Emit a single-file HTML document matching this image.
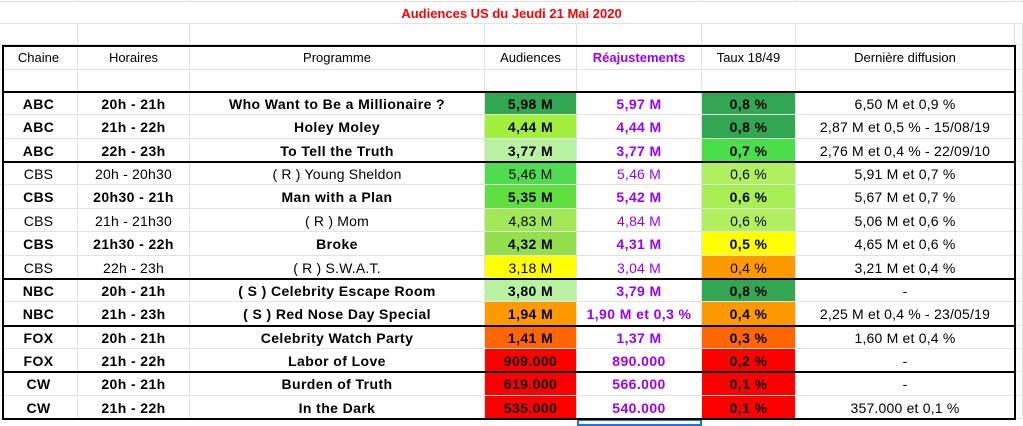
<!DOCTYPE html>
<html><head><meta charset="utf-8"><style>
body{margin:0;width:1023px;height:426px;background:#fff;overflow:hidden;position:relative;font-family:"Liberation Sans",Arial,sans-serif;}
.c{position:absolute;box-sizing:border-box;border-right:1px solid #e2e2e2;border-bottom:1px solid #e2e2e2;font-size:13px;display:flex;align-items:center;justify-content:center;white-space:nowrap;color:#000;padding-top:1px;}
.d{font-size:14px;letter-spacing:0.2px}
.b{font-weight:bold;font-size:14px;letter-spacing:0.4px}
.h{font-weight:bold;font-size:13px}
.p{color:#9900ff}
.k{position:absolute;background:#000;}
</style></head><body>
<div class="c h" style="left:0;top:2px;width:1023px;height:22px;color:#ff0000;border-right:none">Audiences US du Jeudi 21 Mai 2020</div>
<div id="g"></div>
<script>
const xs=[0,78,190,485,577,702,796,1015,1023];
const headers=["Chaine","Horaires","Programme","Audiences","Réajustements","Taux 18/49","Dernière diffusion"];
const chaines=["ABC","ABC","ABC","CBS","CBS","CBS","CBS","CBS","NBC","NBC","FOX","FOX","CW","CW"];
const horaires=["20h - 21h","21h - 22h","22h - 23h","20h - 20h30","20h30 - 21h","21h - 21h30","21h30 - 22h","22h - 23h","20h - 21h","21h - 23h","20h - 21h","21h - 22h","20h - 21h","21h - 22h"];
const programmes=["Who Want to Be a Millionaire ?","Holey Moley","To Tell the Truth","( R ) Young Sheldon","Man with a Plan","( R ) Mom","Broke","( R ) S.W.A.T.","( S ) Celebrity Escape Room","( S ) Red Nose Day Special","Celebrity Watch Party","Labor of Love","Burden of Truth","In the Dark"];
const audiences=["5,98 M","4,44 M","3,77 M","5,46 M","5,35 M","4,83 M","4,32 M","3,18 M","3,80 M","1,94 M","1,41 M","909.000","619.000","535.000"];
const audColors=["#33a652","#a0f03c","#b8f2a0","#50dc50","#5fe040","#a2e856","#94e04c","#ffff00","#b8f2a0","#ff9900","#ff6600","#ff0000","#ff0000","#ff0000"];
const reaj=["5,97 M","4,44 M","3,77 M","5,46 M","5,42 M","4,84 M","4,31 M","3,04 M","3,79 M","1,90 M et 0,3 %","1,37 M","890.000","566.000","540.000"];
const taux=["0,8 %","0,8 %","0,7 %","0,6 %","0,6 %","0,6 %","0,5 %","0,4 %","0,8 %","0,4 %","0,3 %","0,2 %","0,1 %","0,1 %"];
const tauxColors=["#33a652","#33a652","#4ade4a","#b0f060","#a8ee55","#b0f060","#ffff00","#ff9900","#33a652","#ff9900","#ff6600","#ff0000","#ff0000","#ff0000"];
const derniere=["6,50 M et 0,9 %","2,87 M et 0,5 % - 15/08/19","2,76 M et 0,4 % - 22/09/10","5,91 M et 0,7 %","5,67 M et 0,7 %","5,06 M et 0,6 %","4,65 M et 0,6 %","3,21 M et 0,4 %","-","2,25 M et 0,4 % - 23/05/19","1,60 M et 0,4 %","-","-","357.000 et 0,1 %"];
const bold=[1,1,1,0,1,0,1,0,1,1,1,1,1,1];
const g=document.getElementById('g');
function cell(x0,x1,y0,y1,txt,cls,bg,name){
  const d=document.createElement('div');
  d.className='c '+(cls||'');
  d.style.left=x0+'px';d.style.top=y0+'px';d.style.width=(x1-x0)+'px';d.style.height=(y1-y0)+'px';
  if(bg)d.style.background=bg;
  d.textContent=txt||'';
  
  
  g.appendChild(d);
}
for(let c=0;c<8;c++){
  cell(xs[c],xs[c+1],0,2,'','',null,'grid-cell');
  cell(xs[c],xs[c+1],24,45,'','',null,'empty-cell');
  cell(xs[c],xs[c+1],45,70,c<7?headers[c]:'',c==4?'h p':'',null,'column-header');
  cell(xs[c],xs[c+1],70,92,'','',null,'empty-cell');
}
const rh=23.36;
for(let r=0;r<14;r++){
  const y0=Math.round(92+r*rh),y1=Math.round(92+(r+1)*rh);
  const bc=bold[r]?'b':'d';
  cell(xs[0],xs[1],y0,y1,chaines[r],bc,null,'chaine-cell');
  cell(xs[1],xs[2],y0,y1,horaires[r],bc,null,'horaire-cell');
  cell(xs[2],xs[3],y0,y1,programmes[r],bc,null,'programme-cell');
  cell(xs[3],xs[4],y0,y1,audiences[r],bc,audColors[r],'audience-cell');
  cell(xs[4],xs[5],y0,y1,reaj[r],bc+' p',null,'reajustement-cell');
  cell(xs[5],xs[6],y0,y1,taux[r],bc,tauxColors[r],'taux-cell');
  cell(xs[6],xs[7],y0,y1,derniere[r],'d',null,'derniere-diffusion-cell');
  cell(xs[7],xs[8],y0,y1,'','',null,'grid-cell');
}
cell(xs[4],xs[5],419,426,'','',null,'selected-cell');
g.lastChild.style.border='2px solid #1a73e8';
function line(x,y,w,h){const d=document.createElement('div');d.className='k';d.style.left=x+'px';d.style.top=y+'px';d.style.width=w+'px';d.style.height=h+'px';


g.appendChild(d);}
line(2,45,1014,2);line(2,418,1014,2);line(2,45,2,375);line(1014,45,2,375);
[92,0,3,8,10,12].forEach((v,i)=>{const y=i==0?91:Math.round(92+v*rh)-1;line(2,y,1014,2);});
</script>
</body></html>
